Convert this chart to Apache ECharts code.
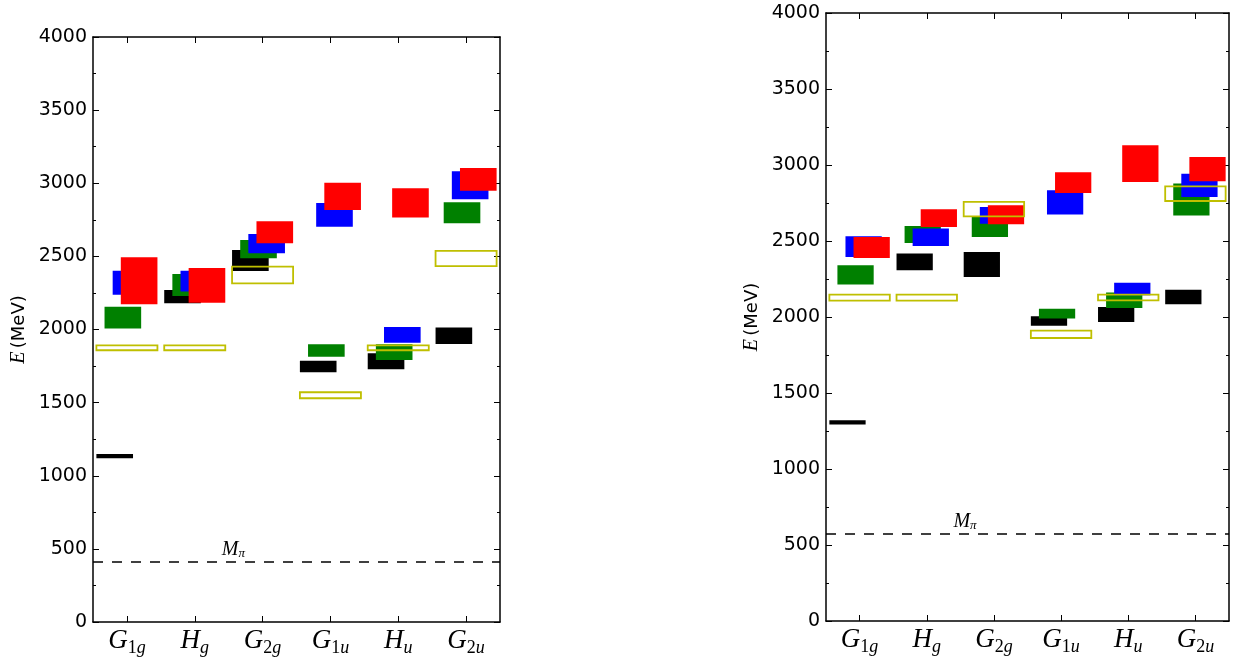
<!DOCTYPE html>
<html><head><meta charset="utf-8">
<script src="https://cdn.jsdelivr.net/npm/echarts@6/dist/echarts.min.js"></script>
<style>html,body{margin:0;padding:0;background:#fff}#c{width:1235px;height:666px}</style>
</head><body><div id="c"></div>
<script>
// ---- data ----
const categories = ['G1g', 'Hg', 'G2g', 'G1u', 'Hu', 'G2u'];
const yTicks = [0, 500, 1000, 1500, 2000, 2500, 3000, 3500, 4000];

// left panel: [low, high] (MeV) per category
const leftBlack  = [[1119,1149],[2179,2270],[2400,2544],[1707,1787],[1728,1837],[1901,2013]];
const leftGreen  = [[2006,2156],[2229,2380],[2487,2612],[1814,1899],[1792,1899],[2726,2870]];
const leftBlue   = [[2238,2402],[2259,2402],[2521,2653],[2703,2865],[1910,2017],[2890,3082]];
const leftRed    = [[2172,2494],[2183,2421],[2589,2740],[2817,3004],[2765,2966],[2949,3104]];
const leftYellow = [[1858,1892],[1858,1892],[2316,2430],[1530,1571],[1858,1892],[2434,2537]];
const leftPion = 412;

// right panel
const rightBlack  = [[1292,1320],[2307,2417],[2263,2428],[1943,2005],[1967,2066],[2084,2180]];
const rightGreen  = [[2213,2340],[2487,2599],[2526,2658],[1990,2055],[2059,2161],[2667,2878]];
const rightBlue   = [[2395,2531],[2467,2582],[2614,2724],[2674,2834],[2143,2226],[2790,2943]];
const rightRed    = [[2388,2526],[2592,2709],[2610,2735],[2816,2952],[2888,3130],[2893,3053]];
const rightYellow = [[2108,2147],[2108,2147],[2662,2757],[1862,1911],[2110,2147],[2763,2860]];
const rightPion = 575;

// ---- styles ----
const sansFont = 'DejaVu Sans';
const mathFont = 'Liberation Serif';
const grids = [
  {left: 93, top: 37, width: 407, height: 585},
  {left: 826, top: 13, width: 403, height: 608}
];

function catFormatter(v) {
  const base = v[0];
  const rest = v.slice(1);
  let s = '{g|' + base + '}';
  for (const ch of rest) {
    s += /[0-9]/.test(ch) ? '{d|' + ch + '}' : '{l|' + ch + '}';
  }
  return s;
}
const catRich = {
  g: {fontFamily: mathFont, fontStyle: 'italic', fontSize: 27, lineHeight: 30, verticalAlign: 'top', color: '#000'},
  d: {fontFamily: mathFont, fontSize: 18, lineHeight: 10, verticalAlign: 'bottom', color: '#000'},
  l: {fontFamily: mathFont, fontStyle: 'italic', fontSize: 18, lineHeight: 10, verticalAlign: 'bottom', color: '#000'}
};

const axisLine = {show: true, onZero: false, lineStyle: {color: '#000', width: 1.5}};

const xAxes = [], yAxes = [];
grids.forEach((g, gi) => {
  xAxes.push({
    gridIndex: gi, type: 'category', data: categories, position: 'bottom', boundaryGap: true,
    axisLine: axisLine,
    axisTick: {show: true, inside: true, alignWithLabel: true, interval: 0, length: 6, lineStyle: {color: '#000', width: 1}},
    axisLabel: {show: true, interval: 0, margin: 5, formatter: catFormatter, rich: catRich},
    splitLine: {show: false}
  });
  xAxes.push({
    gridIndex: gi, type: 'category', data: categories, position: 'top', boundaryGap: true,
    axisLine: axisLine,
    axisTick: {show: true, inside: true, alignWithLabel: true, interval: 0, length: 6, lineStyle: {color: '#000', width: 1}},
    axisLabel: {show: false}, splitLine: {show: false}
  });
  yAxes.push({
    gridIndex: gi, type: 'value', min: yTicks[0], max: yTicks[yTicks.length - 1],
    interval: yTicks[1] - yTicks[0], position: 'left',
    axisLine: axisLine,
    axisTick: {show: true, inside: true, length: 6, lineStyle: {color: '#000', width: 1}},
    minorTick: {show: true, splitNumber: 2, length: 3, lineStyle: {color: '#000', width: 1}},
    axisLabel: {show: true, margin: 6, color: '#000', fontFamily: sansFont, fontSize: 19,
      formatter: function (v) { return String(v); }},
    splitLine: {show: false},
    name: '{e|E} {t|(MeV)}', nameLocation: 'middle', nameRotate: 90, nameGap: 64,
    nameTextStyle: {rich: {
      e: {fontFamily: mathFont, fontStyle: 'italic', fontSize: 20, color: '#000'},
      t: {fontFamily: sansFont, fontSize: 18, color: '#000'}
    }}
  });
  yAxes.push({
    gridIndex: gi, type: 'value', min: yTicks[0], max: yTicks[yTicks.length - 1],
    interval: yTicks[1] - yTicks[0], position: 'right',
    axisLine: axisLine,
    axisTick: {show: true, inside: true, length: 6, lineStyle: {color: '#000', width: 1}},
    minorTick: {show: true, splitNumber: 2, length: 3, lineStyle: {color: '#000', width: 1}},
    axisLabel: {show: false}, splitLine: {show: false}
  });
});

function boxRender(off, w, style) {
  return function (params, api) {
    const i = api.value(0), lo = api.value(1), hi = api.value(2);
    const top = api.coord([i, hi]);
    const bot = api.coord([i, lo]);
    const bw = api.size([1, 0])[0];
    return {
      type: 'rect',
      shape: {x: top[0] + off * bw, y: top[1], width: w * bw, height: bot[1] - top[1]},
      style: style
    };
  };
}

const layers = [
  {key: 'black', off: -0.45, w: 0.54, style: {fill: '#000000'}},
  {key: 'green', off: -0.33, w: 0.54, style: {fill: '#008000'}},
  {key: 'blue',  off: -0.21, w: 0.54, style: {fill: '#0000ff'}},
  {key: 'red',   off: -0.09, w: 0.54, style: {fill: '#ff0000'}},
  {key: 'yellow', off: -0.45, w: 0.90, style: {fill: 'none', stroke: '#bfbf00', lineWidth: 1.8}}
];
const panelData = [
  {black: leftBlack, green: leftGreen, blue: leftBlue, red: leftRed, yellow: leftYellow, pion: leftPion},
  {black: rightBlack, green: rightGreen, blue: rightBlue, red: rightRed, yellow: rightYellow, pion: rightPion}
];

const series = [];
panelData.forEach((pd, gi) => {
  series.push({
    type: 'custom', xAxisIndex: gi * 2, yAxisIndex: gi * 2, silent: true, z: 1,
    data: [[1, pd.pion]],
    encode: {x: 0, y: 1},
    renderItem: function (params, api) {
      const p = api.coord([api.value(0), api.value(1)]);
      const bw = api.size([1, 0])[0];
      return {
        type: 'text',
        style: {
          x: p[0] + 0.57 * bw, y: p[1] - 2,
          text: '{m|M}{p|\u03c0}',
          align: 'center', verticalAlign: 'bottom',
          rich: {
            m: {fontFamily: mathFont, fontStyle: 'italic', fontSize: 20, lineHeight: 20, verticalAlign: 'top', fill: '#000'},
            p: {fontFamily: mathFont, fontStyle: 'italic', fontSize: 13, lineHeight: 8, verticalAlign: 'bottom', fill: '#000'}
          }
        }
      };
    },
    markLine: {
      silent: true, symbol: ['none', 'none'], animation: false,
      label: {show: false},
      lineStyle: {color: '#000', width: 1.5, type: [10, 9]},
      data: [{yAxis: pd.pion}]
    }
  });
  layers.forEach((ly, li) => {
    series.push({
      type: 'custom', name: ly.key, xAxisIndex: gi * 2, yAxisIndex: gi * 2,
      z: 2 + li, silent: true,
      data: pd[ly.key].map((v, i) => [i, v[0], v[1]]),
      encode: {x: 0, y: [1, 2]},
      renderItem: boxRender(ly.off, ly.w, ly.style)
    });
  });
});

const chart = echarts.init(document.getElementById('c'), null, {renderer: 'canvas'});
chart.setOption({
  animation: false,
  backgroundColor: '#fff',
  grid: grids,
  xAxis: xAxes,
  yAxis: yAxes,
  series: series
});
</script>
</body></html>
